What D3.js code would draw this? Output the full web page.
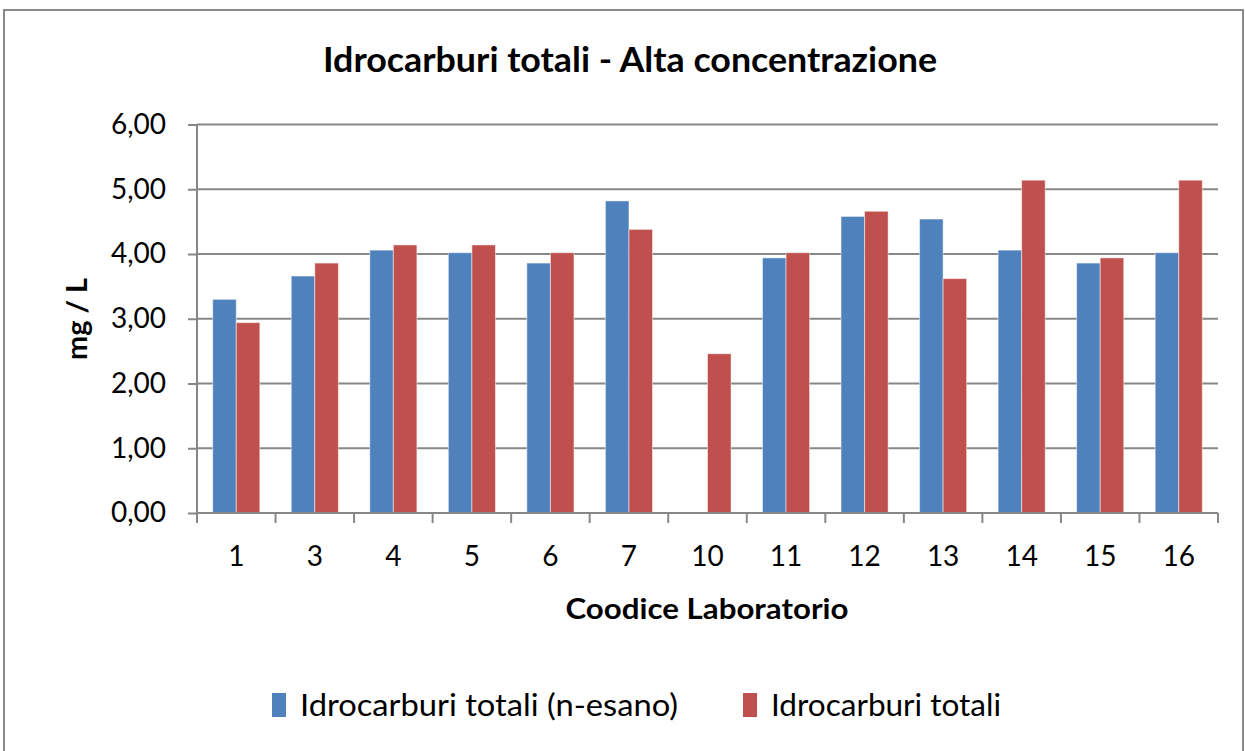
<!DOCTYPE html>
<html>
<head>
<meta charset="utf-8">
<script src="https://cdn.jsdelivr.net/npm/d3@7"></script>
<style>
  body { margin: 0; background: #fff; }
  text { font-family: Lato, "Open Sans", sans-serif; fill: #000; }
</style>
</head>
<body>
<script>
var labs = ["1","3","4","5","6","7","10","11","12","13","14","15","16"];
var esano = [3.30, 3.66, 4.06, 4.02, 3.86, 4.82, null, 3.94, 4.58, 4.54, 4.06, 3.86, 4.02];
var totali = [2.94, 3.86, 4.14, 4.14, 4.02, 4.38, 2.46, 4.02, 4.66, 3.62, 5.14, 3.94, 5.14];
var seriesNames = ["Idrocarburi totali (n-esano)", "Idrocarburi totali"];
var yTicks = [0, 1, 2, 3, 4, 5, 6];

var colors = ["#4F81BD", "#C0504D"];
var gridColor = "#878787";

var loadChart = function(){
    var svg = d3.select("body").append("svg")
        .attr("width", 1245)
        .attr("height", 751);

    // outer chart border
    svg.append("rect")
        .attr("x", 4).attr("y", 10)
        .attr("width", 1239).attr("height", 760)
        .attr("fill", "none")
        .attr("stroke", "#8a8a8a")
        .attr("stroke-width", 2);

    var xScale = d3.scaleBand().domain(labs).range([197, 1218])
        .paddingInner(0.4).paddingOuter(0.2);
    var yScale = d3.scaleLinear().domain([0, 6]).range([513, 124.5]);
    var half = xScale.bandwidth() / 2;

    // gridlines
    svg.append("g").selectAll("line").data(yTicks.slice(1)).enter().append("line")
        .attr("x1", 197).attr("x2", 1218)
        .attr("y1", function(d){ return yScale(d); })
        .attr("y2", function(d){ return yScale(d); })
        .attr("stroke", gridColor).attr("stroke-width", 2);

    // bars
    var rows = labs.map(function(l, i){ return {lab: l, vals: [esano[i], totali[i]]}; });
    var groups = svg.append("g").selectAll("g").data(rows).enter().append("g");
    groups.selectAll("rect")
        .data(function(d){ return d.vals.map(function(v, k){ return {lab: d.lab, v: v, k: k}; }); })
        .enter().filter(function(d){ return d.v !== null; })
        .append("rect")
        .attr("x", function(d){ return xScale(d.lab) + d.k * half; })
        .attr("y", function(d){ return yScale(d.v); })
        .attr("width", half)
        .attr("height", function(d){ return yScale(0) - yScale(d.v); })
        .attr("fill", function(d){ return colors[d.k]; })
        .attr("stroke", "#ffffff").attr("stroke-opacity", 0.5).attr("stroke-width", 1);

    // y axis
    var yAxis = d3.axisLeft(yScale).tickValues(yTicks).tickSize(9).tickPadding(22)
        .tickFormat(function(d){ return d3.format(".2f")(d).replace(".", ","); });
    var gy = svg.append("g").attr("transform", "translate(197,0)").call(yAxis);
    gy.select(".domain").attr("stroke", gridColor).attr("stroke-width", 2)
        .attr("d", "M0," + yScale(6) + "V" + yScale(0));
    gy.selectAll(".tick line").attr("stroke", gridColor).attr("stroke-width", 2);
    gy.selectAll(".tick text").attr("font-size", 28).attr("font-family", "Lato").attr("fill", "#000");

    // x axis
    var xAxis = d3.axisBottom(xScale).tickSize(0).tickPadding(33);
    var gx = svg.append("g").attr("transform", "translate(0,513)").call(xAxis);
    gx.select(".domain").attr("stroke", gridColor).attr("stroke-width", 2)
        .attr("d", "M197,0H1218");
    gx.selectAll(".tick text").attr("font-size", 28).attr("font-family", "Lato").attr("fill", "#000");
    var bounds = labs.map(function(l){ return xScale(l) - xScale.step() * 0.2; }).concat([1218]);
    gx.append("g").selectAll("line").data(bounds).enter().append("line")
        .attr("x1", function(d){ return d; }).attr("x2", function(d){ return d; })
        .attr("y1", 0).attr("y2", 10)
        .attr("stroke", gridColor).attr("stroke-width", 2);

    // titles
    svg.append("text")
        .attr("x", 630).attr("y", 72)
        .attr("text-anchor", "middle")
        .attr("font-size", 35).attr("font-weight", "bold")
        .attr("textLength", 614).attr("lengthAdjust", "spacingAndGlyphs")
        .text("Idrocarburi totali - Alta concentrazione");

    svg.append("text")
        .attr("x", 707).attr("y", 619)
        .attr("text-anchor", "middle")
        .attr("font-size", 28).attr("font-weight", "bold")
        .attr("textLength", 283).attr("lengthAdjust", "spacingAndGlyphs")
        .text("Coodice Laboratorio");

    svg.append("text")
        .attr("transform", "translate(87,319) rotate(-90)")
        .attr("text-anchor", "middle")
        .attr("font-size", 28).attr("font-weight", "bold")
        .attr("textLength", 82).attr("lengthAdjust", "spacingAndGlyphs")
        .text("mg / L");

    // legend
    var legendX = [272, 743];
    var legendLen = [378, 230];
    var legend = svg.append("g").selectAll("g").data(seriesNames).enter().append("g")
        .attr("transform", function(d, i){ return "translate(" + legendX[i] + ",693)"; });
    legend.append("rect")
        .attr("width", 14).attr("height", 24)
        .attr("fill", function(d, i){ return colors[i]; });
    legend.append("text")
        .attr("x", 28).attr("y", 23)
        .attr("font-size", 30)
        .attr("textLength", function(d, i){ return legendLen[i]; })
        .attr("lengthAdjust", "spacingAndGlyphs")
        .text(function(d){ return d; });
}

window.onload = loadChart;
</script>
</body>
</html>
